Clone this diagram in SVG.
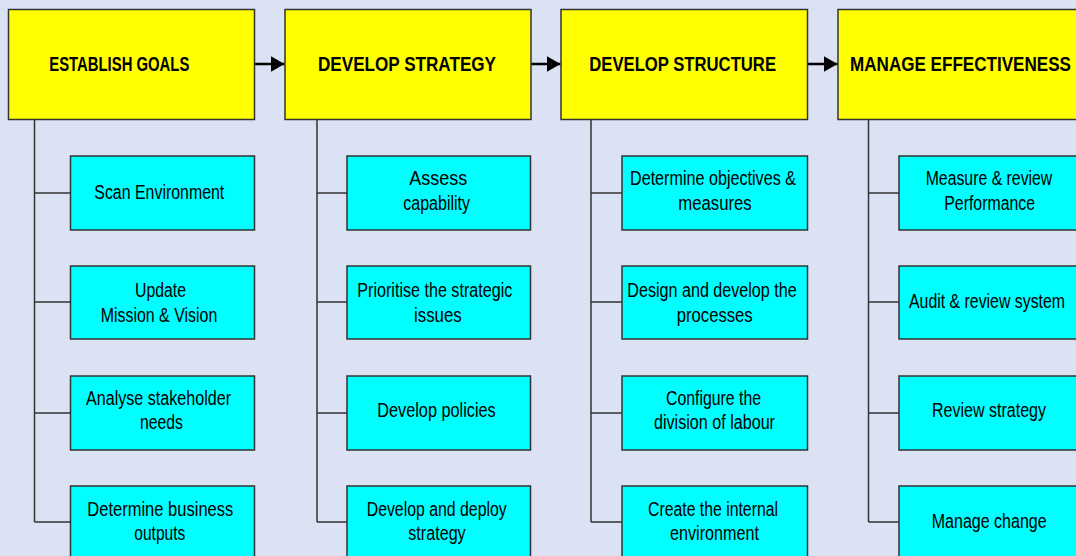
<svg xmlns="http://www.w3.org/2000/svg" width="1076" height="556" viewBox="0 0 1076 556">
<style>
.bg{fill:#dae2f3}
.hd{fill:#ffff00;stroke:#333333;stroke-width:1.5}
.bx{fill:#00ffff;stroke:#333333;stroke-width:1.5}
.ht{font-family:"Liberation Sans",Arial,sans-serif;font-weight:bold;font-size:19.5px;fill:#000}
.t{font-family:"Liberation Sans",Arial,sans-serif;font-size:19.5px;fill:#000}
.ln{stroke:#333333;stroke-width:1.5;fill:none}
.ar{stroke:#000;stroke-width:2.5;fill:none}
</style>
<defs>
<marker id="ah" viewBox="0 0 14 16" refX="14" refY="8" markerWidth="14" markerHeight="16" markerUnits="userSpaceOnUse" orient="auto">
<path d="M0,0 L14,8 L0,16 Z" fill="#000"/>
</marker>
</defs>
<rect class="bg" x="0" y="0" width="1076" height="556"/>
<g id="connectors">
<line class="ar" x1="255" y1="64" x2="284.5" y2="64" marker-end="url(#ah)"/>
<line class="ar" x1="531" y1="64" x2="560.5" y2="64" marker-end="url(#ah)"/>
<line class="ar" x1="808" y1="64" x2="837.5" y2="64" marker-end="url(#ah)"/>
<path class="ln" d="M34.5,119 V522 M34.5,193 H70.5 M34.5,302 H70.5 M34.5,413 H70.5 M34.5,522 H70.5"/>
<path class="ln" d="M317,119 V522 M317,193 H347 M317,302 H347 M317,413 H347 M317,522 H347"/>
<path class="ln" d="M591,119 V522 M591,193 H622 M591,302 H622 M591,413 H622 M591,522 H622"/>
<path class="ln" d="M868.5,119 V522 M868.5,193 H899 M868.5,302 H899 M868.5,413 H899 M868.5,522 H899"/>
</g>
<g id="establish-goals">
<rect class="hd" x="8.5" y="9.5" width="246" height="110"/>
<text class="ht" x="49.3" y="71" textLength="140" lengthAdjust="spacingAndGlyphs">ESTABLISH GOALS</text>
</g>
<g id="develop-strategy">
<rect class="hd" x="285" y="9.5" width="246" height="110"/>
<text class="ht" x="318" y="71" textLength="178" lengthAdjust="spacingAndGlyphs">DEVELOP STRATEGY</text>
</g>
<g id="develop-structure">
<rect class="hd" x="561" y="9.5" width="246.5" height="110"/>
<text class="ht" x="589.3" y="71" textLength="186.7" lengthAdjust="spacingAndGlyphs">DEVELOP STRUCTURE</text>
</g>
<g id="manage-effectiveness">
<rect class="hd" x="838" y="9.5" width="246" height="110"/>
<text class="ht" x="850" y="71" textLength="221" lengthAdjust="spacingAndGlyphs">MANAGE EFFECTIVENESS</text>
</g>
<g id="scan-environment">
<rect class="bx" x="70.5" y="156" width="184" height="74"/>
<text class="t" x="94.3" y="199" textLength="130" lengthAdjust="spacingAndGlyphs">Scan Environment</text>
</g>
<g id="update-mission">
<rect class="bx" x="70.5" y="266" width="184" height="73"/>
<text class="t" x="135" y="297" textLength="51" lengthAdjust="spacingAndGlyphs">Update</text>
<text class="t" x="100.7" y="322" textLength="116.6" lengthAdjust="spacingAndGlyphs">Mission &amp; Vision</text>
</g>
<g id="analyse-stakeholder">
<rect class="bx" x="70.5" y="376" width="184" height="74"/>
<text class="t" x="86" y="405" textLength="145" lengthAdjust="spacingAndGlyphs">Analyse stakeholder</text>
<text class="t" x="140" y="429" textLength="43" lengthAdjust="spacingAndGlyphs">needs</text>
</g>
<g id="determine-outputs">
<rect class="bx" x="70.5" y="486" width="184" height="80"/>
<text class="t" x="87.3" y="515.7" textLength="146" lengthAdjust="spacingAndGlyphs">Determine business</text>
<text class="t" x="134.3" y="540" textLength="51" lengthAdjust="spacingAndGlyphs">outputs</text>
</g>
<g id="assess-capability">
<rect class="bx" x="347" y="156" width="183.5" height="74"/>
<text class="t" x="409.3" y="185" textLength="58" lengthAdjust="spacingAndGlyphs">Assess</text>
<text class="t" x="403.3" y="210" textLength="66.7" lengthAdjust="spacingAndGlyphs">capability</text>
</g>
<g id="prioritise-issues">
<rect class="bx" x="347" y="266" width="183.5" height="73"/>
<text class="t" x="357.3" y="297" textLength="155" lengthAdjust="spacingAndGlyphs">Prioritise the strategic</text>
<text class="t" x="414" y="322" textLength="47.7" lengthAdjust="spacingAndGlyphs">issues</text>
</g>
<g id="develop-policies">
<rect class="bx" x="347" y="376" width="183.5" height="74"/>
<text class="t" x="377.3" y="417.3" textLength="118.4" lengthAdjust="spacingAndGlyphs">Develop policies</text>
</g>
<g id="develop-deploy">
<rect class="bx" x="347" y="486" width="183.5" height="80"/>
<text class="t" x="366.7" y="515.7" textLength="140" lengthAdjust="spacingAndGlyphs">Develop and deploy</text>
<text class="t" x="408.3" y="540" textLength="57.4" lengthAdjust="spacingAndGlyphs">strategy</text>
</g>
<g id="determine-objectives">
<rect class="bx" x="622" y="156" width="185.5" height="74"/>
<text class="t" x="630" y="185" textLength="166" lengthAdjust="spacingAndGlyphs">Determine objectives &amp;</text>
<text class="t" x="678.3" y="210" textLength="73.4" lengthAdjust="spacingAndGlyphs">measures</text>
</g>
<g id="design-processes">
<rect class="bx" x="622" y="266" width="185.5" height="73"/>
<text class="t" x="627.3" y="297" textLength="169.4" lengthAdjust="spacingAndGlyphs">Design and develop the</text>
<text class="t" x="676.7" y="322" textLength="76" lengthAdjust="spacingAndGlyphs">processes</text>
</g>
<g id="configure-division">
<rect class="bx" x="622" y="376" width="185.5" height="74"/>
<text class="t" x="666" y="405" textLength="95" lengthAdjust="spacingAndGlyphs">Configure the</text>
<text class="t" x="654" y="429" textLength="121" lengthAdjust="spacingAndGlyphs">division of labour</text>
</g>
<g id="create-environment">
<rect class="bx" x="622" y="486" width="185.5" height="80"/>
<text class="t" x="648" y="515.7" textLength="130" lengthAdjust="spacingAndGlyphs">Create the internal</text>
<text class="t" x="670" y="540" textLength="89" lengthAdjust="spacingAndGlyphs">environment</text>
</g>
<g id="measure-performance">
<rect class="bx" x="899" y="156" width="185" height="74"/>
<text class="t" x="925.7" y="185" textLength="126.6" lengthAdjust="spacingAndGlyphs">Measure &amp; review</text>
<text class="t" x="944.3" y="210" textLength="90.7" lengthAdjust="spacingAndGlyphs">Performance</text>
</g>
<g id="audit-review">
<rect class="bx" x="899" y="266" width="185" height="73"/>
<text class="t" x="909" y="308" textLength="156" lengthAdjust="spacingAndGlyphs">Audit &amp; review system</text>
</g>
<g id="review-strategy">
<rect class="bx" x="899" y="376" width="185" height="74"/>
<text class="t" x="932" y="417.3" textLength="114" lengthAdjust="spacingAndGlyphs">Review strategy</text>
</g>
<g id="manage-change">
<rect class="bx" x="899" y="486" width="185" height="80"/>
<text class="t" x="931.7" y="528" textLength="115" lengthAdjust="spacingAndGlyphs">Manage change</text>
</g>
</svg>
